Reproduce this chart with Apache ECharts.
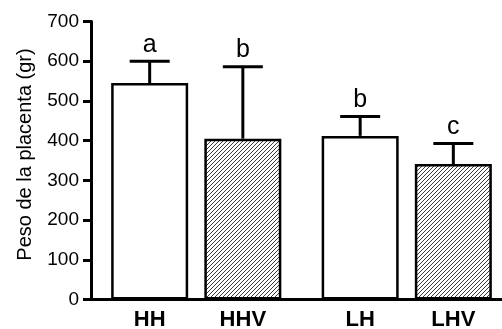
<!DOCTYPE html>
<html>
<head>
<meta charset="utf-8">
<script src="https://cdn.jsdelivr.net/npm/echarts@6/dist/echarts.min.js"></script>
<style>
html,body{margin:0;padding:0;background:#fff;}
#chart{width:502px;height:329px;}
</style>
</head>
<body>
<div id="chart"></div>
<script>
// ---- data ----
const groups = ['H', 'L'];
const namesPlain = ['HH', 'LH'];
const namesV = ['HHV', 'LHV'];
const meansPlain = [545, 412];
const meansV = [405, 341];
const errTopPlain = [600, 461];
const errTopV = [586, 393];
const lettersPlain = ['a', 'b'];
const lettersV = ['b', 'c'];
const yTicks = [0, 100, 200, 300, 400, 500, 600, 700];

const FONT = '"Liberation Sans", Arial, sans-serif';
const BAR_W = 77;
const GAP = 0.21;
const OFF = BAR_W * (1 + GAP) / 2;

// hatch pattern
function makeHatch() {
  const s = 4;
  const c = document.createElement('canvas');
  c.width = s; c.height = s;
  const ctx = c.getContext('2d');
  ctx.fillStyle = '#ffffff';
  ctx.fillRect(0, 0, s, s);
  ctx.strokeStyle = '#3a3a3a';
  ctx.lineWidth = 1;
  ctx.beginPath();
  ctx.moveTo(-1, s + 1); ctx.lineTo(s + 1, -1);
  ctx.moveTo(-1, 1); ctx.lineTo(1, -1);
  ctx.moveTo(s - 1, s + 1); ctx.lineTo(s + 1, s - 1);
  ctx.stroke();
  return c;
}
const hatch = makeHatch();

function errSeries(tops, means, letters, sign) {
  return {
    type: 'custom',
    z: 5,
    data: tops.map((t, i) => [i, t, means[i], letters[i]]),
    renderItem: function (params, api) {
      const top = api.coord([api.value(0), api.value(1)]);
      const base = api.coord([api.value(0), api.value(2)]);
      const x = top[0] + sign * OFF;
      const letter = letters[params.dataIndex];
      return {
        type: 'group',
        children: [
          { type: 'line', shape: { x1: x, y1: base[1], x2: x, y2: top[1] },
            style: { stroke: '#000', lineWidth: 3 } },
          { type: 'line', shape: { x1: x - 20, y1: top[1], x2: x + 20, y2: top[1] },
            style: { stroke: '#000', lineWidth: 3 } },
          { type: 'text', x: x, y: top[1] - 4,
            style: { text: letter, fill: '#000', font: '25px ' + FONT,
                     align: 'center', verticalAlign: 'bottom' } }
        ]
      };
    }
  };
}

const chart = echarts.init(document.getElementById('chart'), null, { renderer: 'canvas' });
chart.setOption({
  animation: false,
  backgroundColor: '#ffffff',
  grid: { left: 91, width: 421, top: 21.5, bottom: 29.5, containLabel: false, outerBoundsMode: 'none' },
  xAxis: {
    type: 'category',
    data: groups,
    axisLine: { lineStyle: { color: '#000', width: 3 } },
    axisTick: { show: false },
    axisLabel: { show: false },
    splitLine: { show: false }
  },
  yAxis: {
    type: 'value',
    min: 0, max: 700, interval: 100,
    name: 'Peso de la placenta (gr)',
    nameLocation: 'middle',
    nameGap: 56,
    nameTextStyle: { fontFamily: FONT, fontSize: 20, color: '#000', padding: [0, 0, 0, 12] },
    axisLine: { show: true, lineStyle: { color: '#000', width: 3 } },
    axisTick: { show: true, length: 8, lineStyle: { color: '#000', width: 3 } },
    axisLabel: { color: '#000', fontFamily: FONT, fontSize: 19, margin: 12,
                 formatter: v => String(yTicks[yTicks.indexOf(v)]) },
    splitLine: { show: false }
  },
  series: [
    {
      type: 'bar',
      data: meansPlain,
      barWidth: BAR_W,
      barGap: (GAP * 100) + '%',
      itemStyle: { color: '#ffffff', borderColor: '#000', borderWidth: 2.5 },
      label: { show: true, position: 'bottom', distance: 9,
               formatter: p => namesPlain[p.dataIndex],
               fontFamily: FONT, fontSize: 22, fontWeight: 'bold', color: '#000' }
    },
    {
      type: 'bar',
      data: meansV,
      barWidth: BAR_W,
      barGap: (GAP * 100) + '%',
      itemStyle: { color: { image: hatch, repeat: 'repeat' }, borderColor: '#000', borderWidth: 2.5 },
      label: { show: true, position: 'bottom', distance: 9,
               formatter: p => namesV[p.dataIndex],
               fontFamily: FONT, fontSize: 22, fontWeight: 'bold', color: '#000' }
    },
    errSeries(errTopPlain, meansPlain, lettersPlain, -1),
    errSeries(errTopV, meansV, lettersV, 1)
  ]
});
</script>
</body>
</html>
